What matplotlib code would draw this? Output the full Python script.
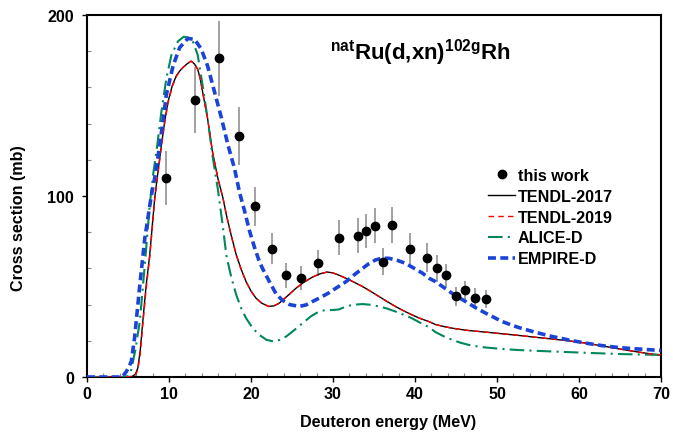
import matplotlib
matplotlib.use('Agg')
import matplotlib.pyplot as plt
from matplotlib.ticker import MultipleLocator

plt.rcParams['font.family'] = ['Liberation Sans', 'DejaVu Sans']
plt.rcParams['font.weight'] = 'bold'
plt.rcParams['mathtext.fontset'] = 'custom'
plt.rcParams['mathtext.rm'] = 'Liberation Sans:bold'
plt.rcParams['mathtext.bf'] = 'Liberation Sans:bold'
plt.rcParams['mathtext.it'] = 'Liberation Sans:bold'

# Experimental data (this work)
exp_e = [9.6, 13.2, 16.1, 18.5, 20.5, 22.5, 24.3, 26.1, 28.2, 30.7, 33.0, 34.0,
         35.1, 36.1, 37.2, 39.4, 41.5, 42.7, 43.8, 45.0, 46.1, 47.3, 48.6]
exp_xs = [110, 153, 176, 133, 94.2, 70.8, 56.1, 54.6, 62.9, 77.0, 78.1, 80.7,
          83.5, 63.8, 84.0, 70.8, 66.0, 60.1, 56.1, 44.5, 47.8, 43.7, 43.0]
exp_err = [15, 18, 20.7, 16, 11, 8.5, 7, 6.7, 7.2, 9.6, 9.5, 9.6,
           9.7, 7.5, 10, 8.5, 7.8, 7.4, 6.4, 5, 5.5, 5.5, 5]

# TENDL-2017
t17_e = [0, 4.5, 5.5, 5.9, 6.2, 6.5, 6.8, 7.2, 7.65, 8.26, 8.7, 9.07, 9.5, 9.88,
         10.4, 10.9, 11.3, 11.7, 12.2, 12.7, 13.1, 13.5, 13.8, 14.1, 14.7, 15.3,
         15.95, 16.6, 17.0, 17.6, 18.2, 18.8, 19.4, 20.0, 20.6, 21.3, 22.15, 22.8,
         23.45, 24.5, 25.5, 26.5, 27.5, 28.4, 29.3, 30.0, 30.7, 31.6, 32.6, 33.6,
         34.6, 35.6, 36.6, 37.6, 38.6, 39.6, 40.6, 41.7, 42.5, 43.5, 44.5, 45.5,
         46.5, 48.6, 50.6, 52.6, 54.6, 56.7, 58.7, 60.7, 62.7, 64.8, 66.8, 68.8, 70]
t17_xs = [0, 0, 0.3, 1.5, 5, 15, 30.5, 50, 67.5, 99, 115, 128, 142, 152,
          161, 166.5, 169, 171, 173, 174.5, 173, 170, 165, 157.5, 143, 124.5,
          110, 98.5, 89.5, 78, 67.5, 59.5, 52.7, 47.5, 43.6, 40.8, 39, 39.3,
          40.8, 45, 49.1, 52.5, 55.2, 57, 58, 57.5, 56.3, 54.5, 52.3, 50,
          47.3, 44.5, 41.7, 39, 36.6, 34.4, 32.4, 30.6, 29, 27.9, 27, 26.3,
          25.7, 24.8, 23.9, 23, 22, 21, 20, 18.8, 17.3, 15.6, 14.1, 12.7, 12.2]

# TENDL-2019 (practically coincides with TENDL-2017)
t19_e = list(t17_e)
t19_xs = [0, 0, 0.2, 1.0, 4, 13, 28.5, 48, 66, 98, 114, 127, 141, 151.5,
          160.5, 166, 169, 171, 173, 174.5, 173, 170, 165, 157.5, 143, 124.5,
          110, 98.5, 89.5, 78, 67.5, 59.5, 52.7, 47.5, 43.6, 40.8, 39, 39.3,
          40.8, 45, 49.1, 52.5, 55.2, 57, 58, 57.5, 56.3, 54.5, 52.3, 50,
          47.3, 44.5, 41.7, 39, 36.6, 34.4, 32.4, 30.6, 29, 27.9, 27, 26.3,
          25.7, 24.8, 23.9, 23, 22, 21, 20, 18.8, 17.3, 15.6, 14.1, 12.7, 12.2]

# ALICE-D
al_e = [0, 4.5, 5.0, 5.4, 5.9, 6.44, 7.05, 7.65, 8.1, 8.47, 9.07, 9.68, 10.3,
        11.1, 11.8, 12.4, 12.9, 13.5, 14.1, 14.7, 15.35, 15.95, 16.6, 17.0, 17.6,
        18.2, 18.8, 19.4, 20.2, 21.0, 21.9, 22.8, 23.5, 24.3, 25.3, 26.3, 27.3,
        28.3, 29.1, 29.9, 30.7, 31.5, 32.4, 33.6, 34.6, 35.6, 36.6, 37.6, 38.6,
        39.6, 40.5, 41.7, 42.5, 43.5, 44.5, 45.5, 46.5, 47.5, 48.6, 50.6, 52.6,
        56.7, 60.7, 64.8, 68.8, 70]
al_xs = [0, 0, 0.5, 4, 15, 30.7, 62, 95, 113, 124.5, 146.5, 165, 178,
         185.5, 188, 187.5, 185.5, 178, 161, 143, 121, 104, 82, 67, 55,
         45.4, 38, 32.5, 27, 23.3, 20.5, 19.6, 20.5, 22.4, 26, 29.8, 33.5,
         36.2, 37, 37, 37.3, 38.8, 39.9, 40.3, 39.9, 39, 37.8, 36.2, 34.4,
         32.5, 30.3, 27.5, 24.8, 22.5, 20.6, 19, 17.8, 17, 16.3, 15.5, 14.9,
         14.1, 13.4, 12.7, 12.3, 12.2]

# EMPIRE-D
em_e = [0, 4.3, 4.8, 5.1, 5.4, 5.8, 6.4, 7.05, 7.86, 8.26, 8.87, 9.68, 10.5,
        11.3, 12.3, 13.1, 13.9, 14.7, 15.55, 16.4, 17.2, 18.0, 18.6, 19.2, 19.8,
        20.4, 21.0, 21.4, 22.2, 23.05, 23.8, 24.7, 25.9, 26.7, 27.5, 28.5, 29.5,
        30.5, 31.6, 32.6, 33.6, 34.4, 35.2, 36.0, 36.8, 37.8, 38.8, 39.8, 40.9,
        41.7, 42.5, 43.5, 44.5, 45.5, 46.5, 47.5, 48.6, 49.6, 50.6, 51.6, 52.6,
        54.6, 56.7, 58.7, 60.7, 62.7, 64.8, 66.8, 68.8, 70]
em_xs = [0, 0, 3, 5.5, 8.6, 21.5, 49, 76.7, 100.6, 110, 128, 156, 172,
         182, 187, 186.6, 181.5, 172, 157.5, 143, 128, 115, 102, 92, 81,
         72, 64, 60, 53, 46, 42.5, 40, 39, 39.8, 41.7, 44, 46.5,
         49.5, 52.7, 56.5, 60, 62.7, 64.7, 65.6, 65.6, 64.5, 62.9, 60.3, 57.4,
         54.6, 52.7, 49.5, 46.3, 43.5, 40.8, 38, 35.3, 33, 30.7, 29, 27.4,
         24.8, 22.4, 20.5, 18.8, 17.4, 16.3, 15.6, 15, 14.7]

fig = plt.figure(figsize=(6.73, 4.35), dpi=100)
ax = fig.add_axes([87/673, 1-378/435, (661-87)/673, (378-16)/435])

ax.errorbar(exp_e, exp_xs, yerr=exp_err, fmt='none', ecolor='#9a9a9a',
            elinewidth=1.3, capsize=0, zorder=2)
ax.plot(t17_e, t17_xs, color='black', lw=1.0, label='TENDL-2017', zorder=3)
ax.plot(t19_e, t19_xs, color='#ff0000', lw=1.0, ls=(0, (4, 3)),
        label='TENDL-2019', zorder=4)
ax.plot(al_e, al_xs, color='#00875a', lw=1.5, ls=(0, (7, 2.5, 1, 2.5)),
        label='ALICE-D', zorder=3)
ax.plot(em_e, em_xs, color='#1a44d8', lw=2.6, ls=(0, (2.2, 1.2)),
        label='EMPIRE-D', zorder=5)
ax.plot(exp_e, exp_xs, 'o', color='black', ms=6, ls='none',
        label='this work', zorder=6)

FS = 11.6
ax.set_xlim(0, 70)
ax.set_ylim(0, 200)
ax.xaxis.set_major_locator(MultipleLocator(10))
ax.xaxis.set_minor_locator(MultipleLocator(2))
ax.yaxis.set_major_locator(MultipleLocator(100))
ax.yaxis.set_minor_locator(MultipleLocator(20))
ax.tick_params(which='major', direction='out', length=3.5, width=1.0,
               labelsize=FS, pad=3)
ax.tick_params(axis='y', which='major', pad=6)
ax.tick_params(which='minor', direction='in', length=3, width=0.8,
               color='#888888')
for lab in ax.get_xticklabels() + ax.get_yticklabels():
    lab.set_fontweight('bold')
for s in ax.spines.values():
    s.set_linewidth(1.5)

ax.set_xlabel('Deuteron energy (MeV)', fontsize=FS, fontweight='bold')
ax.set_ylabel('Cross section (mb)', fontsize=FS, fontweight='bold')
ax.xaxis.set_label_coords((388 - 87) / 574, -(423 - 378) / 362)
ax.yaxis.set_label_coords(-(87 - 18) / 574, (378 - 218) / 362)
ax.xaxis.label.set_va('center')
ax.yaxis.label.set_va('center')

ax.text(40.7, 180, r'$^{\mathrm{nat}}\mathrm{Ru(d{,}xn)}^{\mathrm{102g}}\mathrm{Rh}$',
        fontsize=16, ha='center', va='center')

handles, labels = ax.get_legend_handles_labels()
order = [4, 0, 1, 2, 3]
ax.legend([handles[i] for i in order], [labels[i] for i in order],
          loc='upper left', bbox_to_anchor=(393/574, 1-(161-16)/362),
          frameon=False, prop={'weight': 'bold', 'size': FS},
          handlelength=1.7, handletextpad=0.15, labelspacing=0.36,
          borderpad=0)

fig.savefig('out.png', dpi=100)
